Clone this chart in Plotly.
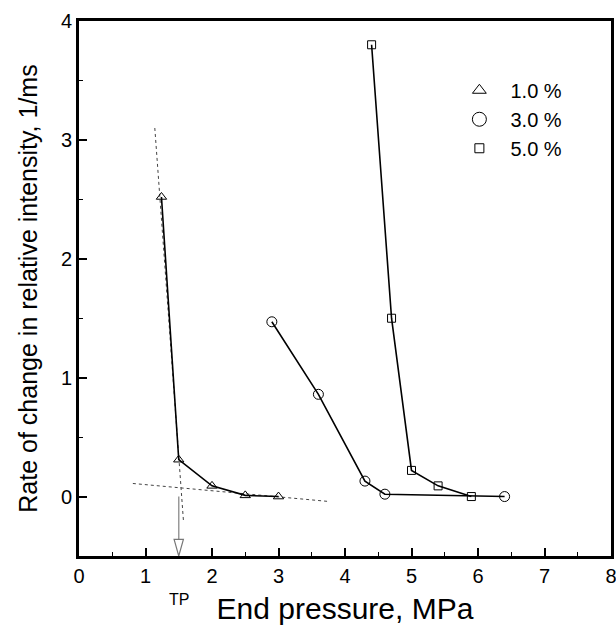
import plotly.graph_objects as go

# ---- data ----
p1_x = [1.24, 1.5, 2.0, 2.5, 3.0]
p1_y = [2.52, 0.31, 0.09, 0.01, 0.0]

p3_x = [2.9, 3.6, 4.3, 4.6, 6.4]
p3_y = [1.47, 0.86, 0.13, 0.02, 0.0]

p5_x = [4.4, 4.7, 5.0, 5.4, 5.9]
p5_y = [3.80, 1.50, 0.22, 0.09, 0.0]

series_names = ["1.0 %", "3.0 %", "5.0 %"]

# tangent (dotted) construction lines
steep_x = [1.14, 1.57]
steep_y = [3.10, -0.20]
flat_x = [0.81, 3.73]
flat_y = [0.11, -0.04]

TP_X = 1.5
TP_LABEL = "TP"

x_ticks = [0, 1, 2, 3, 4, 5, 6, 7, 8]
y_ticks = [0, 1, 2, 3, 4]
X_RANGE = [0, 8]
Y_RANGE = [-0.5, 4]

FONT = "Liberation Sans, Arial, sans-serif"

fig = go.Figure()

# dotted construction lines
for xs, ys in [(steep_x, steep_y), (flat_x, flat_y)]:
    fig.add_trace(go.Scatter(x=xs, y=ys, mode="lines",
                             line=dict(color="#444", width=1, dash="dot"),
                             showlegend=False, hoverinfo="skip"))

# TP arrow shaft
fig.add_trace(go.Scatter(x=[TP_X, TP_X], y=[0.0, Y_RANGE[0] + 0.14], mode="lines",
                         line=dict(color="#999", width=1.5),
                         showlegend=False, hoverinfo="skip"))

series = [
    (p1_x, p1_y, "triangle-up-open", 9),
    (p3_x, p3_y, "circle-open", 10),
    (p5_x, p5_y, "square-open", 8),
]
for (xs, ys, sym, sz) in series:
    fig.add_trace(go.Scatter(x=xs, y=ys, mode="lines+markers",
                             line=dict(color="black", width=1.6),
                             marker=dict(symbol=sym, size=sz, color="black",
                                         line=dict(width=1, color="black")),
                             showlegend=False, cliponaxis=False))

# legend-only entries
leg_syms = [("triangle-up-open", 12), ("circle-open", 14), ("square-open", 9)]
for name, (sym, sz) in zip(series_names, leg_syms):
    fig.add_trace(go.Scatter(x=[None], y=[None], mode="markers",
                             name="\u00a0\u00a0" + name,
                             marker=dict(symbol=sym, size=sz, color="black",
                                         line=dict(width=1, color="black"))))

# hollow arrow head at TP
hw, hh = 0.07, 0.14
fig.add_shape(type="path",
              path=f"M {TP_X - hw},{Y_RANGE[0] + hh} L {TP_X + hw},{Y_RANGE[0] + hh} L {TP_X},{Y_RANGE[0]} Z",
              xref="x", yref="y", line=dict(color="#777", width=1.2),
              fillcolor="white")

fig.add_annotation(x=TP_X, y=0, xref="x", yref="paper", text=TP_LABEL,
                   showarrow=False, yanchor="top", yshift=-33,
                   font=dict(family=FONT, size=16, color="black"))

axis_common = dict(
    showline=True, linecolor="black", linewidth=3, mirror=True,
    ticks="inside", ticklen=8, tickwidth=1.5, tickcolor="black",
    showgrid=False, zeroline=False, automargin=False,
    ticklabeloverflow="allow",
    tickfont=dict(family=FONT, size=20, color="black"),
)

fig.update_xaxes(range=X_RANGE, tickvals=x_ticks, **axis_common,
                 minor=dict(dtick=0.5, ticks="inside", ticklen=4, tickwidth=1.2, tickcolor="black"),
                 title=dict(text="End pressure, MPa", standoff=26,
                            font=dict(family=FONT, size=30, color="black")))
fig.update_yaxes(range=Y_RANGE, tickvals=y_ticks, **axis_common,
                 minor=dict(dtick=0.5, ticks="inside", ticklen=4, tickwidth=1.2, tickcolor="black"),
                 title=dict(text="Rate of change in relative intensity, 1/ms", standoff=17,
                            font=dict(family=FONT, size=25, color="black")))

fig.update_layout(
    width=616, height=625,
    margin=dict(l=79, r=5, t=21, b=69),
    plot_bgcolor="white", paper_bgcolor="white",
    font=dict(family=FONT, color="black"),
    legend=dict(x=0.715, y=0.907, xanchor="left", yanchor="top",
                bgcolor="rgba(0,0,0,0)", borderwidth=0,
                font=dict(family=FONT, size=20, color="black"),
                itemwidth=30, tracegroupgap=0),
    showlegend=True,
)

fig.write_html("out.html")
